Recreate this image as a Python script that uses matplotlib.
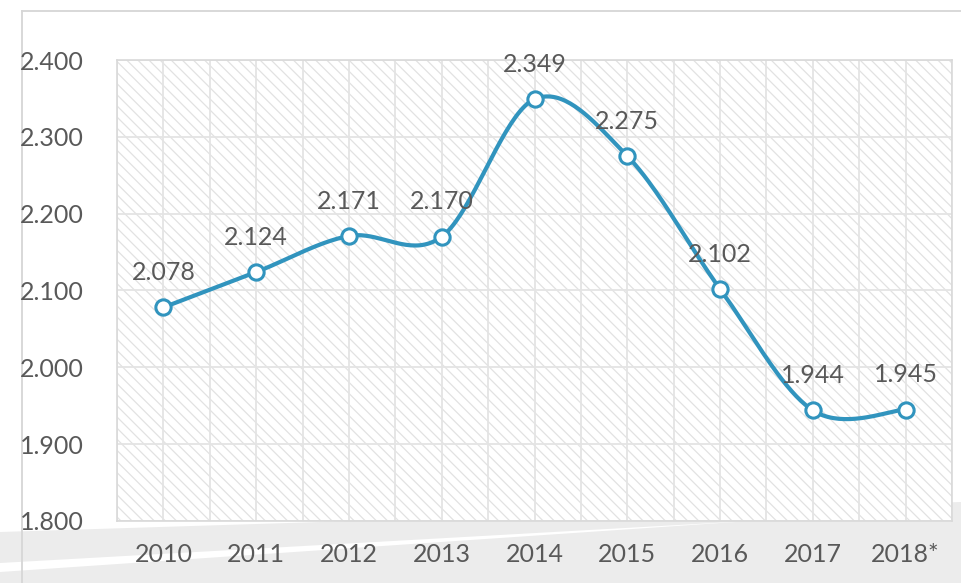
import numpy as np
import matplotlib
matplotlib.use('Agg')
import matplotlib.pyplot as plt
from matplotlib.patches import Polygon
from matplotlib.lines import Line2D

years = ['2010', '2011', '2012', '2013', '2014', '2015', '2016', '2017', '2018*']
values = [2.078, 2.124, 2.171, 2.170, 2.349, 2.275, 2.102, 1.944, 1.945]
y_ticks = [1.8, 1.9, 2.0, 2.1, 2.2, 2.3, 2.4]

line_color = '#3194be'
text_color = '#595959'
grid_color = '#e4e4e4'

plt.rcParams['font.family'] = ['Lato', 'DejaVu Sans']
plt.rcParams['hatch.linewidth'] = 0.9


def smooth_curve(x, y, n=40):
    # bezier smoothing like office "smoothed line"
    pts = np.column_stack([x, y]).astype(float)
    padded = np.vstack([pts[0], pts, pts[-1]])
    out = []
    for i in range(len(pts) - 1):
        p0, p3 = pts[i], pts[i + 1]
        p1 = p0 + (padded[i + 2] - padded[i]) / 6
        p2 = p3 - (padded[i + 3] - padded[i + 1]) / 6
        t = np.linspace(0, 1, n)[:, None]
        seg = (1 - t) ** 3 * p0 + 3 * (1 - t) ** 2 * t * p1 + 3 * (1 - t) * t ** 2 * p2 + t ** 3 * p3
        out.append(seg if i == 0 else seg[1:])
    out = np.vstack(out)
    return out[:, 0], out[:, 1]


fig = plt.figure(figsize=(9.61, 5.83), dpi=100)

# background decoration (slide frame + grey band), pixel coords
bg = fig.add_axes([0, 0, 1, 1], zorder=-1)
bg.set_xlim(0, 961)
bg.set_ylim(583, 0)
bg.axis('off')
bg.add_patch(Polygon([(0, 532), (961, 502), (961, 583), (0, 583)], closed=True,
                     facecolor='#ececec', edgecolor='none'))
bg.add_patch(Polygon([(0, 563), (750, 521), (0, 572)], closed=True,
                     facecolor='white', edgecolor='none'))
bg.add_line(Line2D([22, 22], [11, 583], color='#d6d6d6', lw=1.3))
bg.add_line(Line2D([22, 961], [11, 11], color='#d6d6d6', lw=1.3))

ax = fig.add_axes([117 / 961, 62 / 583, 835 / 961, 461 / 583])
ax.patch.set_facecolor('white')
ax.patch.set_edgecolor('#e2e2e2')
ax.patch.set_hatch('\\\\\\')
ax.patch.set_linewidth(0)

x = np.arange(len(years))
sx, sy = smooth_curve(x, values)
ax.plot(sx, sy, color=line_color, lw=3.0, zorder=3, solid_capstyle='round')
ax.plot(x, values, ls='none', marker='o', ms=11, mfc='white', mec=line_color, mew=2.2, zorder=4)

for xi, v in zip(x, values):
    ax.annotate(f'{v:.3f}', (xi, v), xytext=(0, 25), textcoords='offset points',
                ha='center', va='center', fontsize=18, color=text_color, zorder=5)

ax.set_xlim(-0.5, len(years) - 0.5)
ax.set_ylim(1.8, 2.4)
ax.set_xticks(x)
ax.set_xticklabels(years)
ax.set_xticks(np.arange(-0.5, len(years), 1.0), minor=True)
ax.set_yticks(y_ticks)
ax.set_yticklabels([f'{t:.3f}' for t in y_ticks])

ax.grid(True, which='both', axis='x', color=grid_color, lw=1.3, zorder=1)
ax.grid(True, which='major', axis='y', color=grid_color, lw=1.3, zorder=1)
ax.set_axisbelow(True)

ax.tick_params(axis='both', which='both', length=0, labelsize=18, labelcolor=text_color)
ax.tick_params(axis='y', pad=24)
ax.tick_params(axis='x', pad=16)

for s in ax.spines.values():
    s.set_color('#d9d9d9')
    s.set_linewidth(1.2)

fig.savefig('out.png', dpi=100)
